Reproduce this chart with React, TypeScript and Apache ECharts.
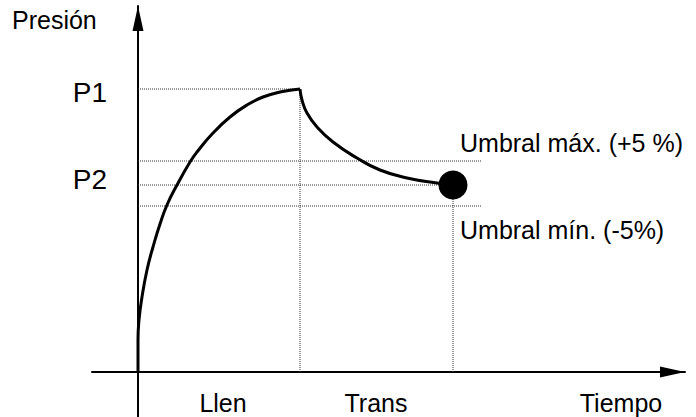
import React, { useEffect, useRef } from "react";
import * as echarts from "echarts";

// Pressure curve: filling phase (rise) and transition phase (decay)
const riseTime = [0, 0, 1, 4, 9, 15, 22, 29, 39, 52, 59, 75, 92, 109, 125, 142, 162];
const risePressure = [0, 32, 52, 75, 102, 125, 148, 167, 187, 210, 220, 239, 255, 267, 275, 280, 283];
const decayTime = [162, 164, 169, 179, 195, 219, 242, 269, 299, 315];
const decayPressure = [283, 272, 259, 245, 230, 214, 202, 194, 189, 187];

// Reference levels
const levelNames = ["P1", "P2"];
const levelValues = [283, 187];
const thresholdNames = ["Umbral máx. (+5 %)", "Umbral mín. (-5%)"];
const thresholdValues = [211, 166];
const thresholdEnd = 344;

// Time phases (x-axis labels)
const phaseNames = ["Llen", "Trans", "Tiempo"];
const phasePositions = [85, 238, 483];

const FONT = "'Liberation Sans', Arial, Helvetica, sans-serif";

export default function App() {
  const ref = useRef<HTMLDivElement>(null);

  useEffect(() => {
    document.body.style.margin = "0";
    const chart = echarts.init(ref.current!, null, { renderer: "svg" });

    const peakT = riseTime[riseTime.length - 1];
    const peakP = risePressure[risePressure.length - 1];
    const endT = decayTime[decayTime.length - 1];
    const endP = decayPressure[decayPressure.length - 1];

    const dotted = {
      type: "line",
      symbol: "none",
      silent: true,
      lineStyle: { color: "#333", width: 1, type: "dotted" },
      z: 1,
    };

    const option: any = {
      animation: false,
      grid: { left: 92, right: 11, top: 6, bottom: 0, outerBoundsMode: "none" },
      xAxis: {
        type: "value",
        min: -46,
        max: 547,
        offset: -45,
        axisLine: {
          onZero: false,
          lineStyle: { color: "#000", width: 2 },
          symbol: ["none", "triangle"],
          symbolSize: [11, 25],
          symbolOffset: [0, -12.5],
        },
        axisTick: { show: false },
        splitLine: { show: false },
        axisLabel: {
          customValues: phasePositions,
          formatter: (v: number) => phaseNames[phasePositions.indexOf(v)] ?? "",
          margin: 18,
          fontSize: 25,
          fontFamily: FONT,
          color: "#000",
        },
      },
      yAxis: {
        type: "value",
        min: -45,
        max: 366,
        offset: -46,
        axisLine: {
          onZero: false,
          lineStyle: { color: "#000", width: 2 },
          symbol: ["none", "triangle"],
          symbolSize: [11, 25],
          symbolOffset: [0, -12.5],
        },
        axisTick: { show: false },
        splitLine: { show: false },
        axisLabel: {
          customValues: levelValues,
          formatter: (v: number) => {
            const i = levelValues.indexOf(v);
            return i === 0 ? "{a|" + levelNames[0] + "}" : "{b|" + levelNames[1] + "}";
          },
          margin: 31,
          fontSize: 28,
          fontFamily: FONT,
          color: "#000",
          rich: {
            a: { fontSize: 28, fontFamily: FONT, color: "#000", padding: [6, 0, 0, 0] },
            b: { fontSize: 28, fontFamily: FONT, color: "#000", padding: [0, 0, 11, 0] },
          },
        },
      },
      series: [
        { ...dotted, data: [[0, levelValues[0]], [peakT, levelValues[0]]] },
        { ...dotted, data: [[0, levelValues[1]], [endT, levelValues[1]]] },
        { ...dotted, data: [[0, thresholdValues[0]], [thresholdEnd, thresholdValues[0]]] },
        { ...dotted, data: [[0, thresholdValues[1]], [thresholdEnd, thresholdValues[1]]] },
        { ...dotted, data: [[peakT, 0], [peakT, peakP]] },
        { ...dotted, data: [[endT, 0], [endT, endP]] },
        {
          type: "line",
          symbol: "none",
          silent: true,
          smooth: 0.5,
          z: 3,
          lineStyle: { color: "#000", width: 3 },
          data: riseTime.map((t, i) => [t, risePressure[i]]),
        },
        {
          type: "line",
          symbol: "none",
          silent: true,
          smooth: 0.5,
          z: 3,
          lineStyle: { color: "#000", width: 3 },
          data: decayTime.map((t, i) => [t, decayPressure[i]]),
        },
        {
          type: "scatter",
          silent: true,
          symbolSize: 29,
          z: 4,
          itemStyle: { color: "#000", opacity: 1 },
          data: [[endT, endP]],
        },
      ],
      graphic: [
        {
          type: "text",
          left: 12,
          top: 7,
          style: { text: "Presión", font: `25px ${FONT}`, fill: "#000" },
        },
        {
          type: "text",
          left: 460,
          top: 130,
          style: { text: thresholdNames[0], font: `25px ${FONT}`, fill: "#000" },
        },
        {
          type: "text",
          left: 460,
          top: 217,
          style: { text: thresholdNames[1], font: `25px ${FONT}`, fill: "#000" },
        },
      ],
    };

    chart.setOption(option);
    return () => chart.dispose();
  }, []);

  return (
    <div
      ref={ref}
      style={{ position: "fixed", left: 0, top: 0, width: 696, height: 417, background: "#fff" }}
    />
  );
}
